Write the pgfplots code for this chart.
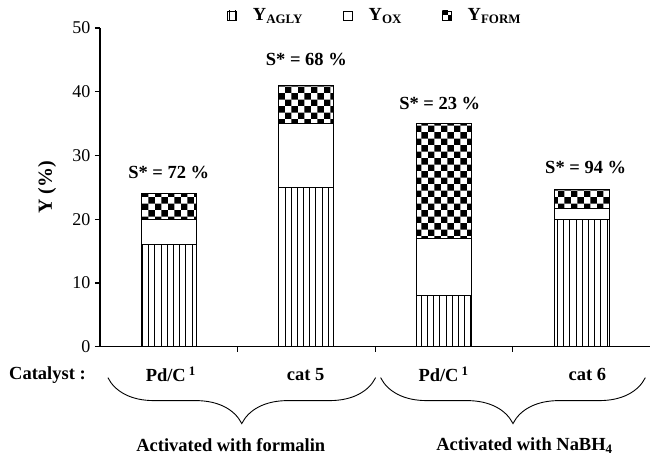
\documentclass[border=0pt]{standalone}
\usepackage{pgfplots}
\pgfplotsset{compat=1.18}
\usepackage{fontspec}
\setmainfont{Liberation Serif}
\usetikzlibrary{patterns,patterns.meta,decorations.pathreplacing}

\tikzdeclarepattern{
  name=bigchecker,
  type=uncolored,
  bounding box={(0,0) and (13bp,13bp)},
  tile size={(13bp,13bp)},
  code={\fill (0,0) rectangle (6.5bp,6.5bp); \fill (6.5bp,6.5bp) rectangle (13bp,13bp);}
}

\pgfplotstableread{
x agly ox form
0 16 4 4
1 25 10 6
2 8 9 18
3 20 1.7 2.9
}\datatab

\newcommand{\boldtxt}{\bfseries\fontsize{18.5bp}{22bp}\selectfont}

\begin{document}
\begin{tikzpicture}[font=\fontsize{18bp}{21bp}\selectfont]
\begin{axis}[
  scale only axis,
  width=551bp, height=319bp,
  xmin=-0.5, xmax=3.5, ymin=0, ymax=50,
  axis lines*=left,
  axis line style={line width=1.3bp},
  ybar stacked, bar width=0.4,
  ytick={0,10,20,30,40,50},
  xtick={0.5,1.5,2.5}, xticklabels={},
  tick align=outside, major tick length=5bp,
  tick style={line width=1.2bp, black},
  /pgf/number format/assume math mode=true,
  yticklabel style={font=\fontsize{18bp}{21bp}\selectfont, xshift=-1bp},
  ylabel={Y (\%)},
  ylabel style={at={(axis description cs:-0.096,0.5)}, anchor=center, font=\bfseries\fontsize{20bp}{24bp}\selectfont},
  clip=false,
  legend columns=3,
  legend style={draw=none, fill=none, at={(0.500,1.005)}, anchor=south,
    font=\bfseries\fontsize{18.5bp}{22bp}\selectfont,
    /tikz/every even column/.append style={column sep=38bp},
    /tikz/every odd column/.append style={column sep=14bp}},
  legend image code/.code={\draw[#1, line width=0.8bp] (0bp,-4.5bp) rectangle (9bp,4.5bp);},
]
\addplot[draw=black, line width=0.8bp, fill=white, postaction={pattern={Lines[angle=90,distance=6.2bp,line width=0.8bp]}}] table[x=x,y=agly]{\datatab};
\addlegendentry{Y\textsubscript{AGLY}}
\addplot[draw=black, line width=0.8bp, fill=white] table[x=x,y=ox]{\datatab};
\addlegendentry{Y\textsubscript{OX}}
\addplot[draw=black, line width=0.8bp, fill=white, postaction={pattern=bigchecker, pattern color=black}] table[x=x,y=form]{\datatab};
\addlegendentry{Y\textsubscript{FORM}}

\node[font=\boldtxt] at (axis cs:0,27.4) {S* = 72 \%};
\node[font=\boldtxt] at (axis cs:1,45) {S* = 68 \%};
\node[font=\boldtxt] at (axis cs:1.97,38.2) {S* = 23 \%};
\node[font=\boldtxt] at (axis cs:3.03,28.1) {S* = 94 \%};
\end{axis}
\begin{scope}[font=\boldtxt]
\node at (-52.5bp,-28bp) {Catalyst :};
\node at (71bp,-28bp) {Pd/C\,\textsuperscript{1}};
\node at (206bp,-28bp) {cat 5};
\node at (344bp,-28bp) {Pd/C\,\textsuperscript{1}};
\node at (488bp,-28bp) {cat 6};
\draw[decorate, decoration={brace, mirror, amplitude=46bp}, line width=0.9bp] (8bp,-31bp) -- (276bp,-31bp);
\draw[decorate, decoration={brace, mirror, amplitude=46bp}, line width=0.9bp] (281bp,-31bp) -- (546bp,-31bp);
\node at (131bp,-99bp) {Activated with formalin};
\node at (425bp,-99bp) {Activated with NaBH\textsubscript{4}};
\end{scope}
\path (-100bp,-109bp) rectangle (551bp,347bp);
\end{tikzpicture}
\end{document}
